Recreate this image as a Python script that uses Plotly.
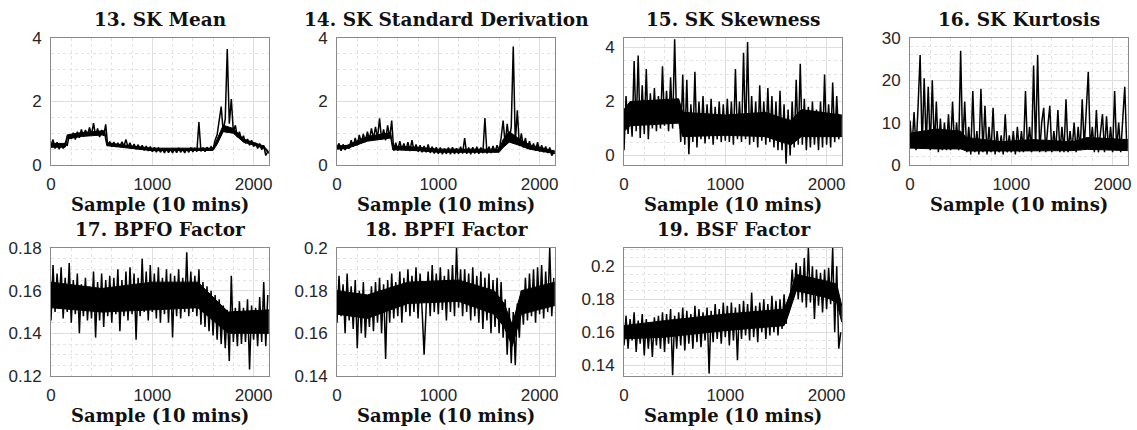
import plotly.graph_objects as go

STEP = 20  # sample spacing of the listed values

TITLES = ["13. SK Mean", "14. SK Standard Derivation", "15. SK Skewness",
          "16. SK Kurtosis", "17. BPFO Factor", "18. BPFI Factor", "19. BSF Factor"]
X_LABEL = "Sample (10 mins)"

SK_MEAN = [
    0.62, 0.80, 0.52, 0.72, 0.50, 0.68, 0.52, 0.70, 0.60, 0.95,
    0.82, 1.02, 0.80, 1.05, 0.86, 1.12, 0.90, 1.10, 0.92, 1.18,
    0.95, 1.32, 0.92, 1.15, 0.88, 1.10, 0.92, 1.28, 0.60, 0.74,
    0.58, 0.72, 0.57, 0.70, 0.58, 0.73, 0.60, 0.80, 0.56, 0.70,
    0.52, 0.66, 0.50, 0.64, 0.48, 0.62, 0.46, 0.60, 0.44, 0.58,
    0.42, 0.56, 0.40, 0.55, 0.40, 0.52, 0.38, 0.52, 0.39, 0.50,
    0.38, 0.52, 0.39, 0.54, 0.40, 0.50, 0.38, 0.52, 0.40, 0.55,
    0.41, 0.52, 0.42, 1.35, 0.43, 0.55, 0.42, 0.56, 0.45, 0.58,
    0.50, 0.78, 0.95, 1.40, 1.84, 1.05, 1.45, 3.65, 1.30, 2.08,
    1.05, 1.25, 0.88, 1.05, 0.80, 0.92, 0.68, 0.82, 0.62, 0.78,
    0.58, 0.70, 0.52, 0.68, 0.48, 0.62, 0.30, 0.42,
]

SK_STD = [
    0.55, 0.68, 0.45, 0.65, 0.47, 0.62, 0.52, 0.78, 0.58, 0.85,
    0.62, 0.95, 0.70, 0.98, 0.72, 1.05, 0.80, 1.15, 0.82, 1.20,
    0.85, 1.47, 0.80, 1.12, 0.78, 1.25, 0.85, 1.40, 0.45, 0.70,
    0.45, 0.75, 0.48, 0.68, 0.46, 0.72, 0.44, 0.78, 0.45, 0.65,
    0.42, 0.62, 0.40, 0.60, 0.40, 0.65, 0.38, 0.58, 0.36, 0.56,
    0.35, 0.55, 0.34, 0.52, 0.35, 0.55, 0.34, 0.56, 0.35, 0.53,
    0.35, 0.58, 0.36, 0.85, 0.35, 0.55, 0.34, 0.56, 0.36, 0.58,
    0.35, 0.55, 0.37, 1.48, 0.36, 0.58, 0.38, 0.60, 0.40, 0.62,
    0.45, 0.85, 1.40, 0.65, 1.30, 0.75, 1.20, 3.73, 0.70, 1.72,
    0.60, 1.00, 0.55, 0.85, 0.50, 0.75, 0.48, 0.68, 0.45, 0.72,
    0.42, 0.62, 0.40, 0.58, 0.38, 0.55, 0.30, 0.40,
]

SK_SKEW = [
    0.20, 2.20, 0.80, 1.90, 0.70, 3.50, 0.90, 3.70, 0.65, 2.60,
    0.80, 3.20, 0.60, 2.30, 1.00, 2.50, 0.90, 2.20, 1.00, 3.30,
    1.10, 2.40, 0.90, 2.90, 1.00, 4.30, 1.20, 2.00, 0.50, 3.00,
    0.40, 2.80, 0.05, 1.90, 0.50, 3.10, 0.30, 2.00, 0.60, 2.20,
    0.45, 1.90, 0.60, 2.10, 0.40, 1.80, 0.60, 2.00, 0.50, 1.90,
    0.55, 2.10, 0.50, 2.00, 0.40, 3.20, 0.60, 2.00, 0.50, 3.80,
    0.60, 4.20, 0.40, 2.20, 0.50, 2.00, 0.30, 2.60, 0.55, 2.00,
    0.40, 2.50, 0.50, 2.20, 0.30, 2.00, 0.20, 2.40, 0.20, 1.90,
    -0.30, 1.70, 0.00, 2.00, 0.30, 2.80, 0.40, 3.40, 0.40, 2.10,
    0.20, 1.80, 0.30, 2.00, 0.40, 1.70, 0.20, 2.00, 0.30, 3.00,
    0.40, 1.90, 0.30, 2.70, 0.50, 2.20, 0.60, 1.50,
]

SK_KURT = [
    10.5, 4.0, 12.5, 3.5, 14.0, 26.0, 4.0, 20.5, 4.5, 18.5,
    3.5, 20.0, 4.0, 15.0, 3.0, 11.0, 3.5, 10.0, 3.5, 12.0,
    3.5, 15.0, 4.0, 10.0, 3.5, 27.0, 4.0, 15.0, 3.0, 9.0,
    2.5, 17.5, 3.0, 8.0, 2.5, 18.0, 3.0, 14.0, 2.5, 9.0,
    3.0, 13.5, 2.5, 8.0, 3.0, 7.0, 2.5, 12.0, 3.0, 7.0,
    3.0, 8.0, 2.5, 9.0, 3.0, 8.0, 3.0, 17.5, 3.5, 9.0,
    3.0, 23.5, 3.5, 26.0, 3.0, 10.0, 13.5, 3.0, 9.0, 14.0,
    3.0, 8.0, 3.5, 13.0, 3.0, 9.0, 3.0, 15.5, 3.0, 8.0,
    3.5, 10.0, 3.0, 9.0, 3.5, 15.5, 4.0, 12.0, 22.0, 4.0,
    9.0, 3.0, 13.0, 3.0, 8.0, 12.0, 3.0, 11.5, 3.5, 9.0,
    3.0, 17.5, 3.5, 10.0, 3.0, 12.0, 18.5, 4.0,
]

BPFO = [
    0.146, 0.172, 0.150, 0.168, 0.152, 0.171, 0.147, 0.166, 0.150, 0.173,
    0.145, 0.165, 0.149, 0.168, 0.140, 0.163, 0.148, 0.166, 0.146, 0.162,
    0.147, 0.169, 0.138, 0.164, 0.146, 0.168, 0.143, 0.165, 0.148, 0.167,
    0.145, 0.166, 0.149, 0.170, 0.141, 0.165, 0.148, 0.169, 0.146, 0.171,
    0.149, 0.168, 0.137, 0.166, 0.148, 0.175, 0.150, 0.169, 0.146, 0.172,
    0.150, 0.168, 0.147, 0.171, 0.145, 0.166, 0.149, 0.170, 0.145, 0.168,
    0.138, 0.167, 0.148, 0.170, 0.147, 0.166, 0.150, 0.178, 0.148, 0.169,
    0.150, 0.167, 0.148, 0.170, 0.144, 0.164, 0.143, 0.162, 0.141, 0.160,
    0.139, 0.158, 0.137, 0.156, 0.135, 0.153, 0.133, 0.151, 0.127, 0.167,
    0.136, 0.152, 0.134, 0.155, 0.135, 0.152, 0.136, 0.156, 0.123, 0.153,
    0.137, 0.152, 0.134, 0.157, 0.136, 0.164, 0.134, 0.158,
]

BPFI = [
    0.165, 0.187, 0.168, 0.183, 0.160, 0.188, 0.166, 0.182, 0.162, 0.185,
    0.153, 0.180, 0.160, 0.184, 0.158, 0.178, 0.163, 0.182, 0.161, 0.184,
    0.165, 0.186, 0.160, 0.183, 0.148, 0.185, 0.165, 0.188, 0.167, 0.184,
    0.168, 0.189, 0.165, 0.186, 0.170, 0.190, 0.168, 0.187, 0.170, 0.191,
    0.167, 0.188, 0.171, 0.150, 0.172, 0.189, 0.168, 0.192, 0.170, 0.188,
    0.169, 0.191, 0.171, 0.187, 0.166, 0.190, 0.170, 0.192, 0.168, 0.200,
    0.172, 0.190, 0.168, 0.190, 0.170, 0.188, 0.166, 0.191, 0.168, 0.187,
    0.165, 0.189, 0.162, 0.186, 0.166, 0.188, 0.160, 0.185, 0.163, 0.186,
    0.160, 0.184, 0.158, 0.176, 0.150, 0.172, 0.146, 0.170, 0.145, 0.174,
    0.158, 0.180, 0.164, 0.186, 0.166, 0.188, 0.168, 0.190, 0.165, 0.191,
    0.169, 0.192, 0.167, 0.189, 0.170, 0.200, 0.168, 0.186,
]

BSF = [
    0.152, 0.170, 0.150, 0.168, 0.155, 0.172, 0.148, 0.167, 0.153, 0.171,
    0.146, 0.168, 0.150, 0.166, 0.145, 0.169, 0.152, 0.170, 0.150, 0.172,
    0.148, 0.171, 0.153, 0.174, 0.134, 0.170, 0.150, 0.172, 0.152, 0.175,
    0.149, 0.173, 0.153, 0.171, 0.150, 0.176, 0.154, 0.174, 0.151, 0.172,
    0.155, 0.175, 0.135, 0.173, 0.154, 0.177, 0.156, 0.174, 0.153, 0.178,
    0.157, 0.176, 0.152, 0.178, 0.155, 0.175, 0.143, 0.177, 0.156, 0.179,
    0.158, 0.177, 0.155, 0.184, 0.157, 0.176, 0.154, 0.178, 0.160, 0.180,
    0.156, 0.177, 0.158, 0.182, 0.160, 0.179, 0.158, 0.180, 0.162, 0.183,
    0.165, 0.180, 0.178, 0.198, 0.182, 0.202, 0.180, 0.200, 0.178, 0.205,
    0.175, 0.211, 0.178, 0.200, 0.168, 0.198, 0.176, 0.196, 0.172, 0.198,
    0.174, 0.199, 0.177, 0.211, 0.160, 0.200, 0.150, 0.160,
]

# Dense core of each trace (where the 10-minute samples pile up into a solid band)
CORE_X = [
    [0, 140, 160, 300, 530, 550, 800, 1000, 1600, 1640, 1700, 1800, 1900, 2100, 2150],
    [0, 100, 300, 530, 550, 800, 1000, 1600, 1640, 1700, 1800, 1900, 2150],
    [0, 60, 540, 580, 1000, 1400, 1550, 1650, 1750, 2150],
    [0, 250, 500, 560, 900, 1200, 1600, 1750, 2150],
    [0, 500, 1000, 1450, 1750, 2150],
    [0, 300, 700, 1200, 1550, 1650, 1730, 1820, 2150],
    [0, 400, 1000, 1580, 1620, 1700, 2000, 2100, 2150],
]
CORE_LO = [
    [0.56, 0.56, 0.82, 0.90, 0.95, 0.61, 0.52, 0.45, 0.46, 0.65, 1.05, 1.00, 0.72, 0.53, 0.36],
    [0.50, 0.52, 0.75, 0.85, 0.48, 0.45, 0.40, 0.40, 0.55, 0.72, 0.62, 0.50, 0.36],
    [0.9, 1.1, 1.2, 0.7, 0.75, 0.7, 0.5, 0.4, 0.7, 0.7],
    [4.0, 3.8, 3.8, 3.3, 3.3, 3.4, 3.4, 3.7, 3.4],
    [0.152, 0.150, 0.151, 0.152, 0.140, 0.140],
    [0.169, 0.167, 0.174, 0.175, 0.169, 0.163, 0.154, 0.169, 0.173],
    [0.156, 0.157, 0.161, 0.164, 0.170, 0.185, 0.181, 0.178, 0.166],
]
CORE_HI = [
    [0.68, 0.68, 0.95, 1.02, 1.08, 0.70, 0.60, 0.53, 0.53, 0.80, 1.25, 1.15, 0.82, 0.60, 0.42],
    [0.60, 0.62, 0.90, 1.02, 0.60, 0.56, 0.50, 0.50, 0.80, 1.05, 0.82, 0.64, 0.44],
    [1.7, 2.0, 2.1, 1.6, 1.5, 1.6, 1.4, 1.3, 1.7, 1.5],
    [7.5, 8.5, 8.0, 6.5, 5.5, 6.0, 5.5, 6.5, 6.0],
    [0.164, 0.161, 0.164, 0.164, 0.150, 0.151],
    [0.180, 0.178, 0.184, 0.185, 0.180, 0.174, 0.164, 0.180, 0.184],
    [0.164, 0.167, 0.171, 0.174, 0.180, 0.195, 0.191, 0.189, 0.176],
]

SERIES = [SK_MEAN, SK_STD, SK_SKEW, SK_KURT, BPFO, BPFI, BSF]
Y_RANGES = [[0, 4], [0, 4], [-0.35, 4.35], [0, 30], [0.12, 0.18], [0.14, 0.2], [0.1335, 0.211]]
Y_TICKS = [[0, 2, 4], [0, 2, 4], [0, 2, 4], [0, 10, 20, 30],
           [0.12, 0.14, 0.16, 0.18], [0.14, 0.16, 0.18, 0.2], [0.14, 0.16, 0.18, 0.2]]
Y_MINOR = [0.5, 0.5, 0.5, 2, 0.005, 0.005, 0.005]
X_TICKS = [0, 1000, 2000]
X_RANGE = [0, 2152]

W, H = 1137, 430
COLS = [(51, 269), (337, 555), (624, 842), (910, 1128)]
ROWS = [(38, 165), (248, 376)]

fig = go.Figure()
TITLE_FONT = dict(family="DejaVu Serif", size=18.5, color="#111111")
LABEL_FONT = dict(family="DejaVu Serif", size=18, color="#111111")
TICK_FONT = dict(family="Liberation Sans, Arial", size=17, color="#262626")

for i, vals in enumerate(SERIES):
    r, c = divmod(i, 4)
    n = "" if i == 0 else str(i + 1)
    x0, x1 = COLS[c]
    t, b = ROWS[r]
    ax = dict(xaxis="x" + n, yaxis="y" + n, showlegend=False, hoverinfo="skip")
    fig.add_trace(go.Scatter(x=CORE_X[i], y=CORE_LO[i], mode="lines",
                             line=dict(color="black", width=1), **ax))
    fig.add_trace(go.Scatter(x=CORE_X[i], y=CORE_HI[i], mode="lines", fill="tonexty",
                             fillcolor="black", line=dict(color="black", width=1), **ax))
    xs = [k * STEP for k in range(len(vals))]
    fig.add_trace(go.Scatter(x=xs, y=vals, mode="lines",
                             line=dict(color="black", width=1.5), **ax))
    common = dict(showline=True, mirror=True, linecolor="#8a8a8a", linewidth=1,
                  showgrid=True, gridcolor="#dedede", gridwidth=1, zeroline=False,
                  ticks="", tickfont=TICK_FONT, automargin=False, fixedrange=True)
    fig.update_layout(**{
        "xaxis" + n: dict(domain=[x0 / W, x1 / W], anchor="y" + n, range=X_RANGE,
                          tickvals=X_TICKS, ticklabelstandoff=4,
                          minor=dict(dtick=200, tick0=0, showgrid=True,
                                     gridcolor="#e4e4e4", griddash="dot", ticks=""),
                          **common),
        "yaxis" + n: dict(domain=[1 - b / H, 1 - t / H], anchor="x" + n,
                          range=Y_RANGES[i], tickvals=Y_TICKS[i], ticklabelstandoff=5,
                          minor=dict(dtick=Y_MINOR[i], tick0=Y_TICKS[i][0], showgrid=True,
                                     gridcolor="#e4e4e4", griddash="dot", ticks=""),
                          **common),
    })
    cx = (x0 + x1) / 2 / W
    fig.add_annotation(text="<b>" + TITLES[i] + "</b>", x=cx, y=1 - (t - 19) / H,
                       xref="paper", yref="paper", showarrow=False,
                       xanchor="center", yanchor="middle", font=TITLE_FONT)
    fig.add_annotation(text="<b>" + X_LABEL + "</b>", x=cx, y=1 - (b + 39) / H,
                       xref="paper", yref="paper", showarrow=False,
                       xanchor="center", yanchor="middle", font=LABEL_FONT)

fig.update_layout(template="none", width=W, height=H, margin=dict(l=0, r=0, t=0, b=0),
                  paper_bgcolor="white", plot_bgcolor="white", hovermode=False)
fig.write_html("out.html", config={"displayModeBar": False, "responsive": False},
               post_script="document.body.style.margin='0';")
